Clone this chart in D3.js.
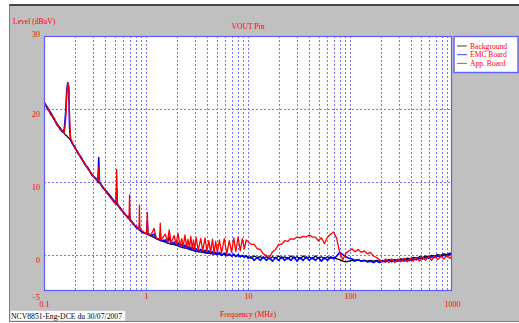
<!DOCTYPE html>
<html><head><meta charset="utf-8">
<script src="https://cdn.jsdelivr.net/npm/d3@7"></script>
<style>html,body{margin:0;padding:0;background:#fff;} svg{display:block;}</style>
</head><body>
<svg id="chart" width="519" height="323"></svg>
<script>
// ---- DATA ----
const freqMHz = [
  // 0.1 - 1 MHz
  0.100,0.108,0.116,0.125,0.134,0.144,0.152,0.158,0.163,0.167,
  0.171,0.175,0.178,0.182,0.190,0.200,0.215,0.230,0.250,0.270,
  0.295,0.320,0.338,0.344,0.350,0.380,0.415,0.455,0.490,0.508,
  0.516,0.524,0.560,0.610,0.660,0.682,0.690,0.698,0.750,0.800,
  0.855,0.862,0.870,0.930,1.000,
  // 1 - 10 MHz
  1.015,1.030,1.045,1.12,1.20,1.26,1.36,1.38,1.40,1.55,
  1.62,1.69,1.76,1.89,1.97,2.06,2.15,2.24,2.32,2.41,
  2.50,2.58,2.67,2.75,2.84,2.92,3.01,3.10,3.25,3.44,
  3.60,3.79,3.96,4.13,4.30,4.48,4.65,4.82,5.00,5.25,
  5.50,5.85,6.20,6.55,6.90,7.25,7.60,8.00,8.40,8.80,
  9.20,9.60,
  // 10 - 1000 MHz
  10.0,10.7,11.5,12.3,13.2,14.1,15.1,16.2,17.4,18.6,
  20.0,21.4,22.9,24.5,26.3,28.2,30.2,32.4,34.7,37.2,
  39.8,42.7,45.7,49.0,52.5,56.2,60.3,64.6,69.2,74.1,
  79.4,85.1,91.2,97.7,104.7,112.2,120.2,128.8,138.0,147.9,
  158.5,169.8,182.0,195.0,208.9,223.9,239.9,257.0,275.4,295.1,
  316.2,338.8,363.1,389.0,416.9,446.7,478.6,512.9,549.5,588.8,
  631.0,676.1,724.4,776.2,831.8,891.3,955.0,1000
];
const background = [
  20.9,20.2,19.4,18.6,18.0,17.3,16.9,16.6,16.4,16.3,
  16.1,16.0,15.9,15.7,15.3,14.7,14.0,13.3,12.5,11.8,
  11.0,10.4,10.0,9.9,9.8,9.2,8.5,7.8,7.2,7.0,
  6.9,6.8,6.3,5.7,5.1,4.9,4.8,4.7,4.2,3.8,
  3.4,3.4,3.3,3.1,2.9,
  2.85,2.8,2.75,2.55,2.35,2.2,2.0,1.95,1.9,1.7,
  1.6,1.5,1.45,1.35,1.3,1.2,1.1,1.0,0.95,0.9,
  0.85,0.8,0.7,0.65,0.6,0.55,0.5,0.45,0.4,0.35,
  0.3,0.25,0.2,0.2,0.15,0.1,0.1,0.05,0.05,0.1,
  -0.1,0.05,-0.15,0.0,-0.2,-0.05,-0.25,-0.1,-0.3,-0.15,
  -0.35,-0.2,
  -0.3,-0.5,-0.2,-0.4,-0.3,-0.5,-0.3,-0.6,-0.3,-0.5,
  -0.2,-0.5,-0.3,-0.6,-0.2,-0.5,-0.3,-0.6,-0.2,-0.5,
  -0.3,-0.6,-0.2,-0.5,-0.3,-0.6,-0.3,-0.5,-0.4,-0.6,
  -0.7,-0.9,-1.0,-0.9,-0.8,-0.9,-0.7,-0.9,-0.8,-0.9,
  -0.8,-0.9,-0.8,-0.9,-0.8,-0.9,-0.7,-0.8,-0.7,-0.8,
  -0.6,-0.7,-0.5,-0.6,-0.4,-0.5,-0.3,-0.4,-0.2,-0.3,
  -0.1,-0.2,0.0,-0.1,0.1,0.0,0.2,0.1
];
const emcBoard = [
  21.0,20.0,19.5,18.7,17.8,17.4,16.8,17.2,19.5,22.5,
  23.6,22.8,17.5,15.8,15.2,14.8,13.9,13.4,12.4,11.9,
  10.9,10.5,10.1,13.3,10.0,9.1,8.6,7.9,7.3,7.1,
  9.0,6.9,6.4,5.6,5.2,5.0,5.5,4.8,4.3,3.7,
  3.5,4.0,3.4,3.0,2.9,
  2.9,4.5,2.75,2.55,2.8,2.2,2.0,3.0,1.9,2.0,
  1.6,2.4,1.45,1.7,1.3,1.6,1.1,1.4,0.95,1.3,
  0.85,1.1,0.7,1.0,0.6,0.9,0.5,0.8,0.4,0.7,
  0.3,0.6,0.2,0.5,0.1,0.4,0.05,0.3,0.0,0.3,
  -0.1,0.2,-0.15,0.1,-0.2,0.05,-0.25,0.0,-0.3,-0.1,
  -0.35,-0.15,
  -0.5,-0.3,-0.8,-0.4,-0.8,-0.3,-0.8,-0.4,-0.9,-0.4,
  -0.8,-0.3,-0.8,-0.4,-0.8,-0.3,-0.9,-0.4,-0.8,-0.3,
  -0.8,-0.4,-0.8,-0.4,-0.9,-0.4,-0.8,-0.3,-0.6,-0.2,
  0.3,0.0,-0.3,-0.5,-0.6,-0.8,-0.7,-0.9,-0.8,-1.0,
  -0.9,-1.1,-0.9,-1.1,-0.9,-1.0,-0.8,-1.0,-0.8,-0.9,
  -0.7,-0.9,-0.7,-0.8,-0.6,-0.7,-0.5,-0.6,-0.4,-0.5,
  -0.3,-0.4,-0.2,-0.3,-0.1,-0.2,0.0,-0.1
];
const appBoard = [
  20.8,20.3,19.2,18.8,17.9,17.1,17.0,16.7,18.5,21.8,
  23.6,23.2,19.0,16.0,15.4,14.6,14.1,13.2,12.6,11.7,
  11.1,10.3,10.2,12.0,9.9,9.3,8.4,7.7,7.1,7.2,
  11.7,7.0,6.2,5.8,5.0,5.0,8.2,4.9,4.1,3.9,
  3.5,6.8,3.5,3.2,2.8,
  3.0,5.8,2.9,2.7,3.6,2.3,2.1,4.3,2.0,2.8,
  1.7,3.4,1.6,2.6,1.4,2.9,1.2,2.2,1.1,2.7,
  1.0,2.1,0.9,2.5,0.8,2.0,0.7,2.4,0.6,2.2,
  0.5,2.3,0.4,1.9,0.3,2.1,0.2,1.8,0.3,2.0,
  0.2,2.2,0.1,1.9,0.3,2.3,0.4,2.4,0.5,2.2,
  0.8,2.0,
  1.8,1.4,1.4,0.8,0.7,0.1,-0.1,-0.4,0.4,0.7,
  1.4,1.4,1.9,1.8,2.2,2.1,2.4,2.3,2.5,2.4,
  2.7,2.4,2.4,1.9,2.3,1.5,2.4,2.8,3.1,2.2,
  0.2,-0.7,0.2,0.5,0.8,0.4,0.7,0.3,0.5,0.1,
  0.3,-0.2,-0.4,-0.7,-1.0,-0.6,-1.1,-0.6,-1.1,-0.6,
  -1.0,-0.5,-1.0,-0.5,-0.9,-0.4,-0.9,-0.4,-0.8,-0.3,
  -0.8,-0.2,-0.7,-0.2,-0.6,-0.1,-0.5,-0.2
];
const seriesNames = ["Background", "EMC Board", "App. Board"];
const seriesColors = ["#000000", "#0000ff", "#ff0000"];
const xTickValues = [0.1, 1, 10, 100, 1000];
const yTickValues = [-5, 0, 10, 20, 30];
const chartTitle = "VOUT Pin";
const yTitle = "Level (dBuV)";
const xTitle = "Frequency (MHz)";
const footNote = "NCV8851-Eng-DCE du 30/07/2007";

if (![background, emcBoard, appBoard].every(a => a.length === freqMHz.length))
  throw new Error("length mismatch " + [freqMHz.length, background.length, emcBoard.length, appBoard.length]);

// ---- DRAW ----
const svg = d3.select("#chart");
const FONT = "'Liberation Serif', 'Times New Roman', serif";
const TXT = "#ff0000";
const L = 44, R = 452, T = 36, B = 291;

const x = d3.scaleLog().domain([0.1, 1000]).range([L, R]);
const y = d3.scaleLinear().domain([-5, 30]).range([B, T]);

// outer frame
svg.append("rect").attr("x", 9).attr("y", 5).attr("width", 510).attr("height", 317).attr("fill", "#c0c0c0");
svg.append("rect").attr("x", 9).attr("y", 4).attr("width", 510).attr("height", 2).attr("fill", "#474747");
svg.append("line").attr("x1", 9.5).attr("x2", 9.5).attr("y1", 5).attr("y2", 322).attr("stroke", "#6a6aff");
svg.append("line").attr("x1", 9).attr("x2", 519).attr("y1", 321.5).attr("y2", 321.5).attr("stroke", "#6a6aff");

// plot area
svg.append("rect").attr("x", L).attr("y", T).attr("width", R - L).attr("height", B - T).attr("fill", "#fff");

// grid
const vGrid = [];
[0.1, 1, 10, 100].forEach(dec => { for (let k = 1; k <= 9; k++) { const v = +(dec * k).toPrecision(3); if (v > 0.1) vGrid.push(v); } });
const grid = svg.append("g").attr("stroke", "#7272ff").attr("stroke-width", 1).attr("stroke-dasharray", "2,2");
grid.selectAll("line.v").data(vGrid).join("line").attr("class", "v")
  .attr("x1", d => Math.round(x(d)) + 0.5).attr("x2", d => Math.round(x(d)) + 0.5)
  .attr("y1", T).attr("y2", B);
grid.selectAll("line.h").data([0, 10, 20]).join("line").attr("class", "h")
  .attr("x1", L).attr("x2", R)
  .attr("y1", d => Math.round(y(d)) + 0.5).attr("y2", d => Math.round(y(d)) + 0.5);

// series
svg.append("clipPath").attr("id", "clip").append("rect").attr("x", L).attr("y", T).attr("width", R - L).attr("height", B - T);
const seriesValues = [background, emcBoard, appBoard];
const seriesWidths = [1.3, 1.6, 1.3];
const line = d3.line().x(d => x(d[0])).y(d => y(d[1]));
const gLines = svg.append("g").attr("clip-path", "url(#clip)");
seriesValues.forEach((vals, i) => {
  gLines.append("path")
    .datum(freqMHz.map((f, j) => [f, vals[j]]))
    .attr("fill", "none").attr("stroke", seriesColors[i]).attr("stroke-width", seriesWidths[i])
    .attr("stroke-linejoin", "round")
    .attr("d", line);
});

// plot border
svg.append("rect").attr("x", L + 0.5).attr("y", T + 0.5).attr("width", R - L - 1).attr("height", B - T - 1)
  .attr("fill", "none").attr("stroke", "#5a5aff").attr("stroke-width", 1.2);

// axes (labels only)
const yAxis = svg.append("g").attr("transform", `translate(${L},0)`)
  .call(d3.axisLeft(y).tickValues(yTickValues).tickSize(0).tickPadding(4).tickFormat(d3.format("~g")));
yAxis.select(".domain").remove();
yAxis.selectAll("text").attr("font-family", FONT).attr("font-size", 8).attr("fill", TXT)
  .attr("dy", d => d === 30 ? "0px" : "8px");

const xAxis = svg.append("g").attr("transform", `translate(0,${B})`)
  .call(d3.axisBottom(x).tickValues(xTickValues).tickSize(0).tickPadding(0).tickFormat(d3.format("~g")));
xAxis.select(".domain").remove();
xAxis.selectAll("text").attr("font-family", FONT).attr("font-size", 8).attr("fill", TXT)
  .attr("y", d => (d === 0.1 || d === 1000) ? 16 : 8).attr("dy", "0px");

// titles
svg.append("text").attr("x", (L + R) / 2).attr("y", 29).attr("text-anchor", "middle")
  .attr("font-family", FONT).attr("font-size", 7.6).attr("fill", TXT).text(chartTitle);
svg.append("text").attr("x", 13).attr("y", 24).attr("font-family", FONT).attr("font-size", 7.6).attr("fill", TXT).text(yTitle);
svg.append("text").attr("x", (L + R) / 2).attr("y", 317).attr("text-anchor", "middle")
  .attr("font-family", FONT).attr("font-size", 7.8).attr("fill", TXT).text(xTitle);

// legend
const lg = svg.append("g");
lg.append("rect").attr("x", 454).attr("y", 36.5).attr("width", 64).attr("height", 36)
  .attr("fill", "#fff").attr("stroke", "#6060ff").attr("stroke-width", 1.4);
seriesNames.forEach((name, i) => {
  const yy = 46 + i * 8.7;
  lg.append("line").attr("x1", 457).attr("x2", 467).attr("y1", yy).attr("y2", yy)
    .attr("stroke", seriesColors[i]).attr("stroke-width", 1).attr("opacity", 0.75);
  lg.append("text").attr("x", 470).attr("y", yy + 2.7).attr("font-family", FONT).attr("font-size", 7.6)
    .attr("fill", TXT).text(name);
});

// foot note
svg.append("rect").attr("x", 10.5).attr("y", 311).attr("width", 114.5).attr("height", 9.5)
  .attr("fill", "#fff").attr("stroke", "#e8e8e8").attr("stroke-width", 0.5);
svg.append("text").attr("x", 11).attr("y", 318.5).attr("font-family", FONT).attr("font-size", 7.7)
  .attr("fill", "#000").text(footNote);
</script>
</body></html>
